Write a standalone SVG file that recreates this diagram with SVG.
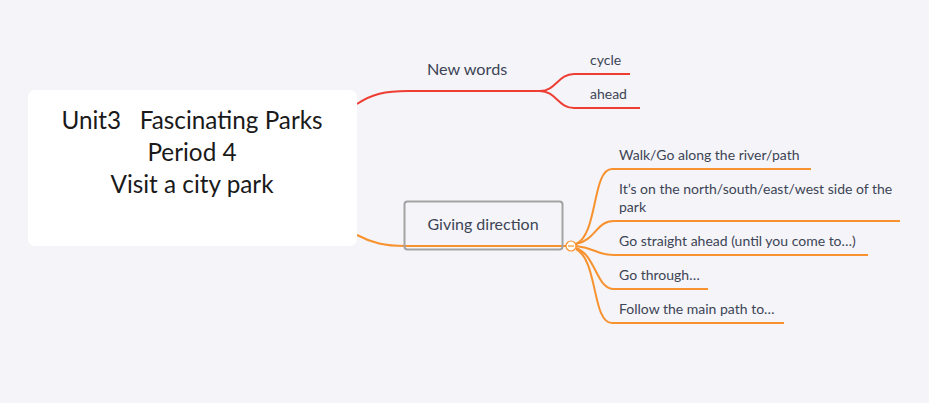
<svg xmlns="http://www.w3.org/2000/svg" width="929" height="403" viewBox="0 0 929 403">
<style>
.t{font-family:Lato,"Open Sans","Liberation Sans",sans-serif;fill:#3d4455}
.title{font-family:Lato,"Open Sans","Liberation Sans",sans-serif;font-size:24.3px;fill:#1a1a1a;text-anchor:middle;white-space:pre}
.s{font-size:14px}
.red{fill:none;stroke:#ee3e33;stroke-width:2}
.org{fill:none;stroke:#f7922f;stroke-width:2}
</style>
<rect width="929" height="403" fill="#f4f4f9"/>
<g id="connectors">
<path d="M357,104 C372,94 385,91 408,91 L540,91" class="red" stroke-width="3"/>
<path d="M540,91 C556,91 558,74 574,74 L630,74" class="red"/>
<path d="M540,91 C556,91 558,108 574,108 L640,108" class="red"/>
<path d="M357,235 C372,243 385,246 405,246 L566,246" class="org" stroke-width="3.5"/>
<path d="M576,244 C598,235 592,169 612,169 L811,169" class="org"/>
<path d="M576,244 C596,240 596,221 614,221 L900,221" class="org"/>
<path d="M576,246 C596,248 596,255 614,255 L868,255" class="org"/>
<path d="M576,248 C596,255 596,289 614,289 L708,289" class="org"/>
<path d="M576,249 C598,260 592,323 612,323 L784,323" class="org"/>
</g>
<g id="center">
<rect x="28" y="90" width="329" height="156" rx="7" fill="#ffffff"/>
<text class="title" x="192" y="129" xml:space="preserve">Unit3   Fascinating Parks</text>
<text class="title" x="192" y="161">Period 4</text>
<text class="title" x="192" y="193">Visit a city park</text>
</g>
<g id="new-words">
<text class="t" x="427" y="75" font-size="16.2">New words</text>
</g>
<g id="cycle"><text class="t s" x="590" y="65">cycle</text></g>
<g id="ahead"><text class="t s" x="590" y="99">ahead</text></g>
<g id="giving-direction">
<rect x="404.5" y="201.5" width="158" height="48" rx="3" fill="none" stroke="#a3a3a3" stroke-width="2"/>
<text class="t" x="483" y="230" font-size="16" text-anchor="middle">Giving direction</text>
<circle cx="571" cy="246" r="5" fill="#ffffff" stroke="#f7922f" stroke-width="1.2"/>
<line x1="568" y1="246" x2="574" y2="246" stroke="#f7922f" stroke-width="1.2"/>
</g>
<g id="walk"><text class="t s" x="619" y="160">Walk/Go along the river/path</text></g>
<g id="side"><text class="t s" x="619" y="194">It’s on the north/south/east/west side of the</text><text class="t s" x="619" y="212">park</text></g>
<g id="straight"><text class="t s" x="619" y="246">Go straight ahead (until you come to…)</text></g>
<g id="through"><text class="t s" x="619" y="280">Go through…</text></g>
<g id="follow"><text class="t s" x="619" y="314">Follow the main path to…</text></g>
</svg>
